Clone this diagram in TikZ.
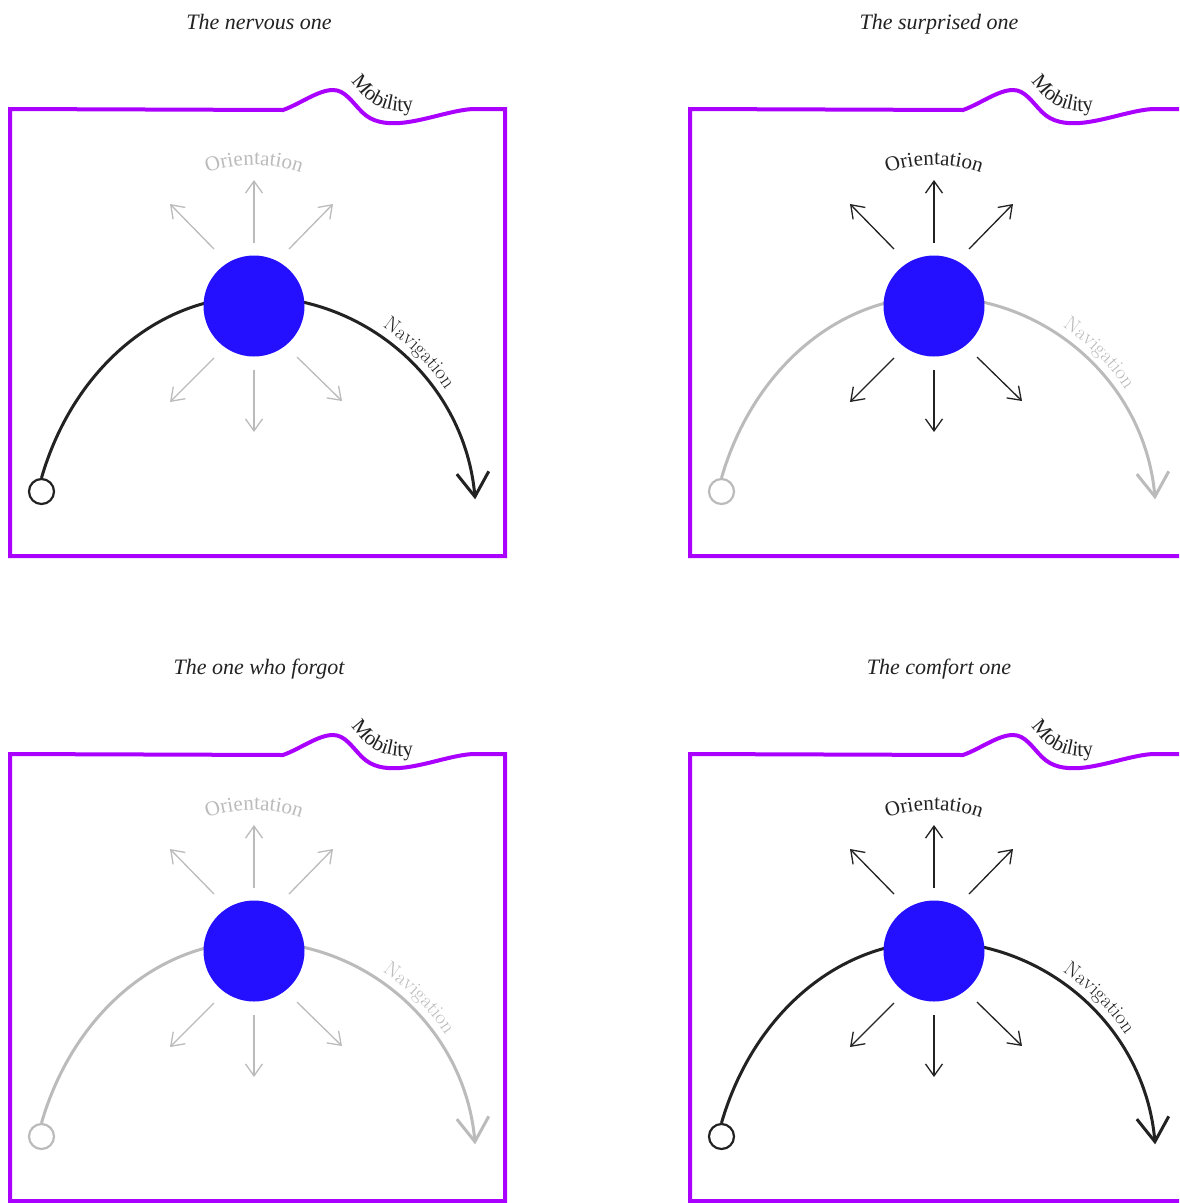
\documentclass[tikz,border=0pt]{standalone}
\usepackage{fontspec}
\newfontfamily\garfont{Liberation Serif}
\usetikzlibrary{arrows.meta,decorations.text,calc}
\definecolor{vio}{HTML}{AA00FF}
\definecolor{dotblue}{HTML}{2410FF}
\definecolor{ltg}{HTML}{BBBBBB}
\definecolor{ink}{HTML}{222222}
\newcommand\titlefont{\garfont\itshape\fontsize{22}{26}\selectfont}
\newcommand\orifont{\garfont\fontsize{21}{24}\selectfont}
\newcommand\mobfont{\garfont\fontsize{21}{24}\selectfont}
\newcommand\navfont{\fontsize{20.5}{24}\selectfont}
\tikzset{
  titlestyle/.style={text=ink,font=\titlefont,inner sep=0pt,anchor=base},
  frame/.style={draw=vio,line width=4pt},
  bigdot/.style={circle,fill=dotblue,minimum size=101pt,inner sep=0pt},
  startdot/.style={circle,line width=2.2pt,fill=white,minimum size=25pt,inner sep=0pt},
  navline/.style={line width=3pt,-{Straight Barb[length=24pt,width=32pt]}},
  oarrow/.style={line width=1.3pt,-{Straight Barb[length=12pt,width=17pt]}}
}
\newcommand\panel[6]{%
\begin{scope}[shift={(#1,#2)}]
  \node[titlestyle] (t#6) at (259,-29) {#3};
  \draw[frame] (283,-110) -- (10,-109) -- (10,-556) -- (505,-556) -- (505,-109) -- (475,-109)
     .. controls (455,-109) and (425,-121) .. (400,-123)
     .. controls (385,-124) and (372,-122) .. (362,-112)
     .. controls (352,-102) and (345,-90) .. (333,-90)
     .. controls (318,-90) and (300,-104) .. (283,-110) -- cycle;
  \path[decorate,decoration={text along path,text align=left,
      text={|\mobfont\color{ink}|Mobility}}]
     (351,-81) .. controls (363,-97) and (375,-110) .. (400,-111)
     .. controls (414,-111) and (426,-108) .. (445,-104);
  \node[startdot,draw=#5] (s#6) at (41.5,-491.5) {};
  \draw[navline,draw=#5] (s#6.north)
     arc[start angle=160.8,end angle=90,x radius=225pt,y radius=270pt]
     arc[start angle=90,end angle=5,radius=222pt];
  \node[bigdot] (c#6) at (254,-306) {};
  \path[decorate,decoration={text along path,text align=center,
      text={|\navfont\color{#5}|Navigation}}]
     (332.9,-301.6) arc[start angle=70,end angle=20,radius=231pt];
  \path[decorate,decoration={text along path,text align=center,
      text={|\orifont\color{#4}|Orientation}}]
     ($(c#6)+(125:141pt)$) arc[start angle=125,end angle=55,radius=141pt];
  \draw[oarrow,draw=#4] ($(c#6)+(0,63)$) -- ($(c#6)+(0,126)$);
  \draw[oarrow,draw=#4] ($(c#6)+(-40,57)$) -- ($(c#6)+(-84,102)$);
  \draw[oarrow,draw=#4] ($(c#6)+(35,57)$) -- ($(c#6)+(79,102)$);
  \draw[oarrow,draw=#4] ($(c#6)+(-40,-52)$) -- ($(c#6)+(-84,-96)$);
  \draw[oarrow,draw=#4] ($(c#6)+(0,-64)$) -- ($(c#6)+(0,-126)$);
  \draw[oarrow,draw=#4] ($(c#6)+(43,-51)$) -- ($(c#6)+(88,-95)$);
\end{scope}}
\begin{document}
\begin{tikzpicture}[x=1pt,y=1pt]
  \useasboundingbox (0,0) rectangle (1179,-1203);
  \clip (0,0) rectangle (1179,-1203);
  \fill[white] (0,0) rectangle (1179,-1203);
  \panel{0}{0}{The nervous one}{ltg}{ink}{a}
  \panel{680}{0}{The surprised one}{ink}{ltg}{b}
  \panel{0}{-645}{The one who forgot}{ltg}{ltg}{c}
  \panel{680}{-645}{The comfort one}{ink}{ink}{d}
\end{tikzpicture}
\end{document}
